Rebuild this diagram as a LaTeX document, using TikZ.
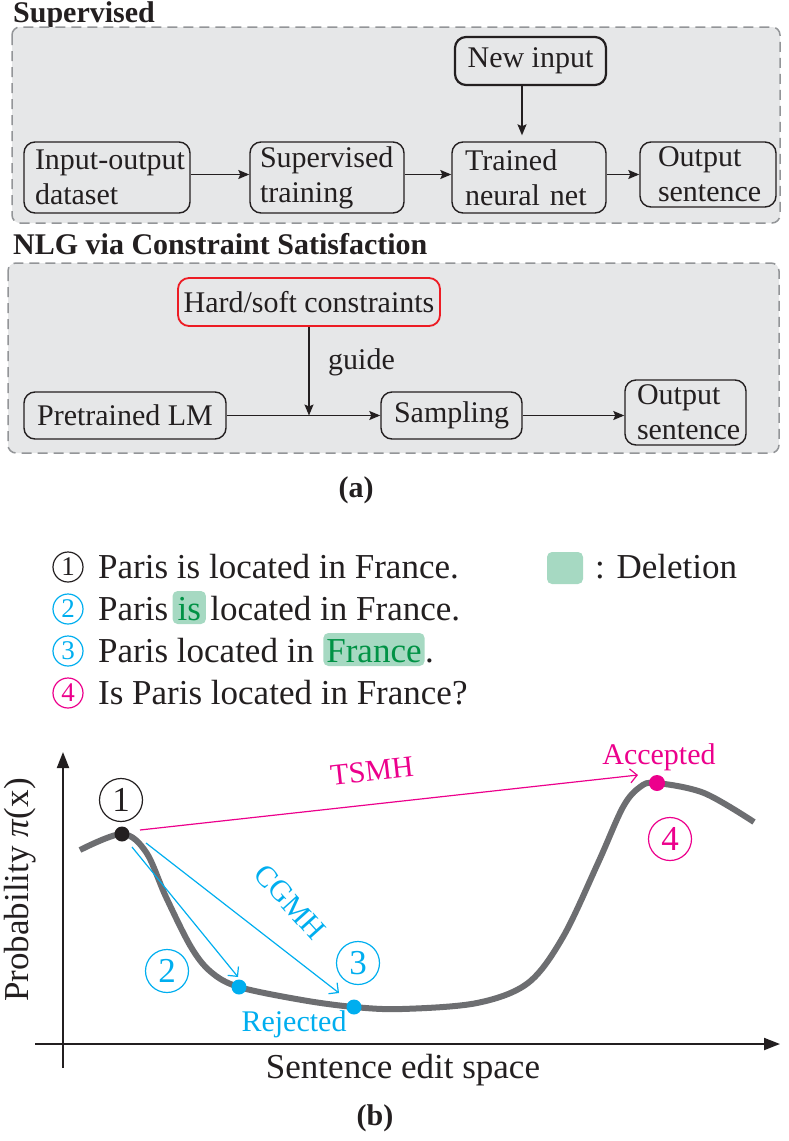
\documentclass[tikz,border=0pt]{standalone}
\usepackage{fontspec}
\setmainfont{Liberation Serif}
\usetikzlibrary{arrows.meta,calc}
\definecolor{bgfill}{HTML}{E6E7E8}
\definecolor{dashc}{HTML}{939598}
\definecolor{curvec}{HTML}{6D6E71}
\definecolor{cyanc}{HTML}{00AEEF}
\definecolor{magc}{HTML}{EC008C}
\definecolor{redc}{HTML}{ED1C24}
\definecolor{hlfill}{HTML}{A6D9C2}
\definecolor{hltext}{HTML}{009245}
\definecolor{ink}{HTML}{231F20}
\newcommand{\fsz}[1]{\fontsize{#1}{#1}\selectfont}
\begin{document}
\begin{tikzpicture}[x=1pt,y=-1pt,
  panel/.style={draw=dashc, dash pattern=on 10pt off 6pt, line width=1.5pt, fill=bgfill, rounded corners=8pt},
  bx/.style={draw=ink, line width=1.4pt, rounded corners=11pt, fill=bgfill, inner ysep=0pt, text=ink, font=\fontsize{30}{35}\selectfont},
  flow/.style={-{Stealth[length=11pt,width=9pt,inset=2pt]}, line width=1.4pt, draw=ink},
  ttl/.style={font=\bfseries\fsz{30}, text=ink, inner sep=0pt},
  lt/.style={font=\fsz{35}, inner sep=0pt, text=ink},
  lc/.style={circle, draw, line width=1.2pt, minimum size=30pt, inner sep=0pt, font=\fsz{27}},
  hl/.style={fill=hlfill, rounded corners=5pt, inner xsep=5pt, inner ysep=0pt, text height=29pt, text depth=4pt, text=hltext, font=\fsz{35}},
  pc/.style={circle, draw, line width=1.2pt, minimum size=43pt, inner sep=0pt, font=\fsz{35}},
  dot/.style={circle, minimum size=15pt, inner sep=0pt},
  axis/.style={draw=ink, line width=2pt, -{Triangle[length=16pt,width=12pt]}},
  barb/.style={line width=1.2pt, -{Straight Barb[length=7pt,width=14pt]}},
  lbl/.style={font=\fsz{30}, inner sep=0pt}
]
\useasboundingbox (0,0) rectangle (789,1141);

% ---------- panel 1 ----------
\node[ttl, anchor=west] (t1) at (13,15) {Supervised};
\draw[panel] (12,27) rectangle (780,223);
\node[bx, line width=2.2pt, minimum width=151pt, minimum height=48pt] (newin) at (530.5,61) {New input};
\node[bx, text width=144pt, inner xsep=11pt, minimum height=71pt, align=left] (iod) at (107,177.5) {\mbox{Input-output}\\dataset};
\node[bx, text width=134pt, inner xsep=10pt, minimum height=71pt, align=left] (sup) at (327,177.5) {Supervised\\training};
\node[bx, text width=128pt, inner xsep=13pt, minimum height=71pt, align=left] (tnn) at (529,177.5) {Trained\\\mbox{neural net}};
\node[bx, text width=100pt, inner xsep=18pt, minimum height=65pt, align=left] (out1) at (708,174.5) {Output\\sentence};
\draw[flow] ([yshift=3pt]iod.east) -- ([yshift=3pt]iod.east -| sup.west);
\draw[flow] ([yshift=3pt]sup.east) -- ([yshift=3pt]sup.east -| tnn.west);
\draw[flow] ([yshift=3pt]tnn.east) -- ([yshift=3pt]tnn.east -| out1.west);
\draw[flow, shorten >=6pt] (newin.south -| 522,0) -- (tnn.north -| 522,0);

% ---------- panel 2 ----------
\node[ttl, anchor=west] (t2) at (13,244) {NLG via Constraint Satisfaction};
\draw[panel] (8,263) rectangle (779,453);
\node[bx, draw=redc, line width=1.8pt, minimum width=262pt, minimum height=48pt] (hard) at (309,302) {Hard/soft constraints};
\node[bx, minimum width=202pt, minimum height=47pt] (pre) at (125,415.5) {Pretrained LM};
\node[bx, minimum width=141pt, minimum height=47pt] (samp) at (451.5,415.5) {Sampling};
\node[bx, text width=97pt, inner xsep=12pt, minimum height=65pt, align=left] (out2) at (685.5,412.5) {Output\\sentence};
\draw[flow] (pre.east) -- (samp.west);
\draw[flow] (samp.east) -- (samp.east -| out2.west);
\coordinate (gmeet) at (hard.south |- pre.east);
\draw[flow] (hard.south) -- (gmeet);
\node[lbl, anchor=west, text=ink] (guide) at (328,362) {guide};

\node[ttl] (la) at (356,490) {(a)};

% ---------- list ----------
\node[lc, draw=ink, text=ink] (c1) at (68,567) {1};
\node[lt, anchor=base west] (l1) at (98,578) {Paris is located in France.};

\node[lc, draw=cyanc, text=cyanc] (c2) at (68,609) {2};
\node[lt, anchor=base west] (l2a) at (98,620) {Paris};
\node[hl, anchor=base west] (l2b) at ([xshift=4pt]l2a.base east) {is};
\node[lt, anchor=base west] (l2c) at ([xshift=4pt]l2b.base east) {located in France.};

\node[lc, draw=cyanc, text=cyanc] (c3) at (68,651) {3};
\node[lt, anchor=base west] (l3a) at (98,662) {Paris located in};
\node[hl, inner xsep=3pt, anchor=base west] (l3b) at ([xshift=9pt]l3a.base east) {France};
\node[lt, anchor=base west] (l3c) at (l3b.base east) {.};

\node[lc, draw=magc, text=magc] (c4) at (68,693) {4};
\node[lt, anchor=base west] (l4) at (98,704) {Is Paris located in France?};

\node[fill=hlfill, rounded corners=5pt, minimum width=36pt, minimum height=32pt, inner sep=0pt] (leg) at (565,568) {};
\node[lt, anchor=base west] (legt) at (595,578) {: Deletion};

% ---------- plot ----------
\coordinate (yo) at (63,1068);
\coordinate (yt) at (63,752);
\coordinate (xo) at (35,1044);
\coordinate (xt) at (780,1044);
\draw[axis] (yo) -- (yt);
\draw[axis] (xo) -- (xt);

\draw[curvec, line width=6pt] plot[smooth, tension=0.55] coordinates {
 (80,850) (122,834) (146,852) (166,897) (191,947) (211,972) (239,987)
 (302,1000) (354,1007) (402,1009) (477,1003) (528,983) (563,937)
 (598,863) (623,807) (640,787) (656,783) (704,793) (754,822)};

\node[dot, fill=ink] (d1) at (122,834) {};
\node[dot, fill=cyanc] (d2) at (239,987) {};
\node[dot, fill=cyanc] (d3) at (354,1007) {};
\node[dot, fill=magc, minimum size=16pt] (d4) at (657,783) {};

\node[pc, draw=ink, text=ink] (n1) at (121,800) {1};
\node[pc, draw=cyanc, text=cyanc] (n2) at (167,971) {2};
\node[pc, draw=cyanc, text=cyanc] (n3) at (358,963) {3};
\node[pc, draw=magc, text=magc] (n4) at (670,839) {4};

\coordinate (ts0) at (140,830);
\coordinate (ts1) at (638,775);
\draw[barb, draw=magc] (ts0) -- (ts1);
\coordinate (ca0) at (132,847);
\coordinate (ca1) at (238,977);
\draw[barb, draw=cyanc] (ca0) -- (ca1);
\coordinate (cb0) at (146,843);
\coordinate (cb1) at (339,993);
\draw[barb, draw=cyanc] (cb0) -- (cb1);

\node[lbl, text=magc, rotate=6.3] (tsmh) at (372,771) {TSMH};
\node[lbl, text=magc] (acc) at (659,757) {Accepted};
\node[lbl, text=cyanc] (rej) at (294,1024) {Rejected};
\node[lbl, text=cyanc, rotate=-48] (cgmh) at (290,902) {CGMH};

\node[font=\fsz{35}, text=ink, inner sep=0pt] (xl) at (403,1070) {Sentence edit space};
\node[font=\fsz{35}, text=ink, inner sep=0pt, rotate=90] (yl) at (20,890) {Probability \textit{π}(x)};
\node[ttl] (lb) at (375,1118) {(b)};
\end{tikzpicture}
\end{document}
